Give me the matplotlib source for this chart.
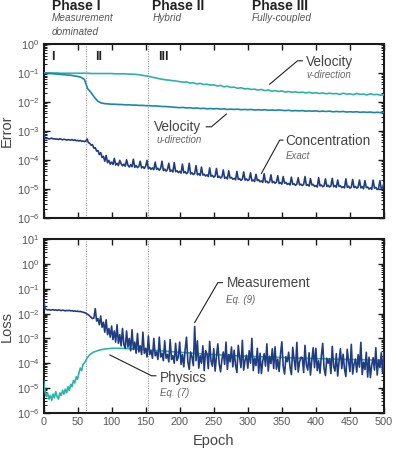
import numpy as np
import matplotlib
matplotlib.use("Agg")
import matplotlib.pyplot as plt
from matplotlib.ticker import LogLocator, NullFormatter

plt.rcParams['font.family'] = ['Liberation Sans', 'DejaVu Sans']
plt.rcParams['mathtext.fontset'] = 'custom'
plt.rcParams['mathtext.rm'] = 'Liberation Sans'
plt.rcParams['mathtext.it'] = 'Liberation Sans:italic'
plt.rcParams['mathtext.default'] = 'regular'

# ---------------- data (log10 values) ----------------
epochs_fine = np.arange(0, 501, 2)      # sampling of the noisy series
epochs_smooth = np.arange(0, 501, 5)    # sampling of the velocity errors
phys_epochs = np.concatenate([np.arange(0, 100, 2), np.arange(100, 501, 10)])

vel_v_log = [
    -1.00, -1.00, -1.00, -1.00, -1.00, -1.01, -1.01, -1.01, -1.01, -1.01,
    -1.01, -1.01, -1.01, -1.01, -1.02, -1.02, -1.02, -1.02, -1.02, -1.02,
    -1.02, -1.03, -1.03, -1.03, -1.03, -1.04, -1.04, -1.05, -1.06, -1.08,
    -1.10, -1.12, -1.15, -1.17, -1.20, -1.22, -1.24, -1.25, -1.27, -1.28,
    -1.30, -1.32, -1.31, -1.35, -1.34, -1.38, -1.36, -1.40, -1.39, -1.42,
    -1.41, -1.45, -1.43, -1.48, -1.46, -1.50, -1.49, -1.53, -1.51, -1.55,
    -1.54, -1.57, -1.56, -1.59, -1.57, -1.61, -1.59, -1.63, -1.61, -1.64,
    -1.62, -1.66, -1.64, -1.67, -1.65, -1.68, -1.66, -1.69, -1.67, -1.70,
    -1.68, -1.71, -1.69, -1.72, -1.70, -1.72, -1.71, -1.74, -1.70, -1.73,
    -1.72, -1.75, -1.71, -1.74, -1.73, -1.76, -1.72, -1.75, -1.74, -1.77,
    -1.75,
]

vel_u_log = [
    -1.00, -1.01, -1.02, -1.03, -1.04, -1.05, -1.06, -1.07, -1.08, -1.10,
    -1.12, -1.15, -1.22, -1.55, -1.68, -1.85, -1.98, -2.04, -2.06, -2.07,
    -2.08, -2.08, -2.09, -2.09, -2.10, -2.10, -2.11, -2.11, -2.12, -2.12,
    -2.13, -2.13, -2.14, -2.14, -2.15, -2.16, -2.16, -2.17, -2.18, -2.19,
    -2.20, -2.19, -2.21, -2.20, -2.22, -2.21, -2.23, -2.22, -2.24, -2.23,
    -2.24, -2.23, -2.25, -2.24, -2.26, -2.25, -2.26, -2.25, -2.27, -2.26,
    -2.27, -2.26, -2.28, -2.27, -2.28, -2.27, -2.29, -2.28, -2.29, -2.28,
    -2.29, -2.30, -2.29, -2.31, -2.30, -2.31, -2.30, -2.32, -2.31, -2.32,
    -2.31, -2.33, -2.32, -2.33, -2.32, -2.34, -2.33, -2.34, -2.33, -2.35,
    -2.34, -2.35, -2.34, -2.36, -2.35, -2.36, -2.35, -2.37, -2.36, -2.37,
    -2.36,
]

conc_log = [
    -3.00, -3.25, -3.27, -3.26, -3.28, -3.27, -3.25, -3.28, -3.27, -3.29,
    -3.28, -3.30, -3.27, -3.29, -3.31, -3.29, -3.30, -3.32, -3.30, -3.31,
    -3.32, -3.30, -3.33, -3.31, -3.34, -3.33, -3.35, -3.33, -3.36, -3.35,
    -3.37, -3.36, -3.28, -3.41, -3.43, -3.50, -3.48, -3.60, -3.58, -3.70,
    -3.68, -3.82, -3.75, -3.92, -3.88, -4.05, -3.85, -4.10, -4.02, -4.15,
    -4.08, -4.16, -3.95, -4.18, -4.12, -4.20, -4.02, -4.14, -4.21, -4.15,
    -4.22, -4.00, -4.19, -4.25, -4.17, -4.24, -3.98, -4.26, -4.20, -4.27,
    -4.23, -4.05, -4.28, -4.24, -4.30, -4.22, -4.02, -4.31, -4.26, -4.33,
    -4.28, -4.34, -4.08, -4.33, -4.29, -4.36, -4.30, -4.05, -4.37, -4.32,
    -4.39, -4.34, -4.12, -4.40, -4.36, -4.42, -4.10, -4.41, -4.38, -4.44,
    -4.40, -4.46, -4.15, -4.45, -4.41, -4.48, -4.43, -4.12, -4.49, -4.45,
    -4.51, -4.47, -4.20, -4.52, -4.48, -4.54, -4.25, -4.53, -4.50, -4.56,
    -4.52, -4.58, -4.28, -4.57, -4.54, -4.60, -4.56, -4.30, -4.61, -4.57,
    -4.63, -4.59, -4.35, -4.64, -4.60, -4.66, -4.38, -4.63, -4.61, -4.67,
    -4.64, -4.69, -4.40, -4.68, -4.65, -4.71, -4.67, -4.42, -4.70, -4.66,
    -4.72, -4.68, -4.45, -4.73, -4.70, -4.75, -4.50, -4.72, -4.69, -4.76,
    -4.73, -4.78, -4.48, -4.77, -4.74, -4.80, -4.76, -4.52, -4.79, -4.75,
    -4.81, -4.77, -4.55, -4.82, -4.79, -4.84, -4.58, -4.81, -4.78, -4.85,
    -4.82, -4.87, -4.60, -4.85, -4.83, -4.88, -4.84, -4.62, -4.87, -4.84,
    -4.89, -4.85, -4.58, -4.88, -4.86, -4.91, -4.65, -4.87, -4.85, -4.92,
    -4.89, -4.94, -4.62, -4.90, -4.87, -4.93, -4.90, -4.66, -4.92, -4.88,
    -4.94, -4.90, -4.64, -4.93, -4.89, -4.95, -4.70, -4.92, -4.90, -4.96,
    -4.93, -4.97, -4.66, -4.95, -4.91, -4.98, -4.94, -4.68, -4.96, -4.92,
    -4.98, -4.94, -4.70, -4.97, -4.93, -5.00, -4.72, -4.96, -4.94, -5.01,
    -4.97, -5.02, -4.70, -4.98, -4.95, -5.03, -4.99, -4.72, -5.00, -4.96,
    -4.80,
]

meas_log = [
    -1.37, -1.78, -1.83, -1.85, -1.84, -1.86, -1.85, -1.84, -1.86, -1.85,
    -1.87, -1.85, -1.86, -1.88, -1.86, -1.87, -1.89, -1.87, -1.88, -1.87,
    -1.89, -1.88, -1.90, -1.89, -1.91, -1.90, -1.92, -1.91, -1.93, -1.94,
    -1.96, -1.98, -2.02, -2.05, -2.10, -2.15, -2.20, -2.18, -1.80, -2.30,
    -2.20, -2.45, -2.10, -2.55, -2.35, -2.75, -2.25, -2.85, -2.60, -2.95,
    -2.50, -3.05, -2.70, -3.15, -2.45, -3.20, -2.85, -3.30, -2.60, -3.25,
    -3.40, -2.70, -3.35, -3.00, -3.50, -2.65, -3.45, -3.15, -3.60, -2.80,
    -3.55, -3.30, -3.65, -2.75, -3.60, -3.40, -3.75, -2.90, -3.65, -3.50,
    -3.80, -3.00, -3.70, -3.55, -3.85, -2.95, -3.75, -3.60, -3.90, -3.10,
    -3.80, -3.65, -3.95, -3.05, -3.85, -3.70, -4.00, -3.20, -3.90, -3.75,
    -3.15, -4.05, -3.65, -4.15, -3.45, -2.95, -3.95, -4.25, -3.55, -3.75,
    -4.10, -2.52, -3.90, -3.10, -4.20, -3.70, -4.00, -3.30, -4.30, -3.50,
    -3.62, -4.22, -3.12, -3.92, -4.12, -3.42, -4.32, -3.72, -3.22, -4.02,
    -4.35, -3.85, -3.55, -4.05, -3.15, -4.25, -3.65, -3.95, -3.35, -4.15,
    -3.48, -4.08, -4.38, -3.28, -3.78, -4.18, -3.08, -4.28, -3.88, -3.68,
    -4.20, -3.50, -4.00, -3.00, -4.30, -3.80, -4.10, -3.40, -4.40, -3.60,
    -4.42, -3.92, -3.62, -4.12, -3.22, -4.32, -3.72, -4.02, -3.42, -4.22,
    -3.34, -4.24, -3.84, -4.34, -3.64, -3.14, -4.14, -4.44, -3.74, -3.94,
    -3.56, -4.16, -4.46, -3.36, -3.86, -4.26, -3.16, -4.36, -3.96, -3.76,
    -3.78, -4.38, -3.28, -4.08, -4.28, -3.58, -4.48, -3.88, -3.38, -4.18,
    -3.40, -4.30, -3.90, -4.40, -3.70, -3.20, -4.20, -4.50, -3.80, -4.00,
    -3.82, -4.42, -3.32, -4.12, -4.32, -3.62, -4.52, -3.92, -3.42, -4.22,
    -3.64, -4.24, -4.54, -3.44, -3.94, -4.34, -3.24, -4.44, -4.04, -3.84,
    -4.36, -3.66, -4.16, -3.16, -4.46, -3.96, -4.26, -3.56, -4.56, -3.76,
    -4.58, -4.08, -3.78, -4.28, -3.38, -4.48, -3.88, -4.18, -3.58, -4.38,
    -3.55,
]

phys_log = [
    -4.67, -5.10, -5.35, -5.20, -5.45, -5.30, -5.50, -5.25, -5.40, -5.15,
    -5.35, -5.45, -5.20, -5.30, -5.10, -5.25, -5.05, -5.20, -4.95, -5.10,
    -4.85, -4.95, -4.70, -4.80, -4.55, -4.65, -4.40, -4.20, -4.30, -4.05,
    -4.00, -3.90, -3.80, -3.72, -3.66, -3.62, -3.58, -3.55, -3.53, -3.51,
    -3.49, -3.48, -3.46, -3.45, -3.44, -3.43, -3.42, -3.42, -3.41, -3.41,
    -3.40, -3.40, -3.41, -3.42, -3.43, -3.45, -3.48, -3.50, -3.52, -3.54,
    -3.56, -3.58, -3.60, -3.62, -3.64, -3.65, -3.67, -3.68, -3.70, -3.71,
    -3.72, -3.73, -3.74, -3.75, -3.76, -3.77, -3.78, -3.79, -3.80, -3.81,
    -3.82, -3.82, -3.83, -3.84, -3.85, -3.85, -3.86, -3.86, -3.87, -3.87,
    -3.88,
]

phase_bounds = [62, 153]
region_labels = ["I", "II", "III"]
region_x = [14, 81, 176]
phase_titles = ["Phase I", "Phase II", "Phase III"]
phase_subs = ["Measurement\ndominated", "Hybrid", "Fully-coupled"]
x_ticks = list(range(0, 501, 50))

# ---------------- style ----------------
C_V = "#2bb3aa"
C_U = "#1b86a8"
C_NAVY = "#213d82"
TXT = "#444444"
SPINE = "#1a1a1a"

W, H = 395, 450
fig = plt.figure(figsize=(W / 100, H / 100), dpi=100)

def add_ax(l, r, t, b):
    return fig.add_axes([l / W, 1 - b / H, (r - l) / W, (b - t) / H])

ax1 = add_ax(43.5, 384, 44, 217.7)
ax2 = add_ax(43.5, 384, 239.3, 412.7)

def style(ax, ymin, ymax, show_x):
    ax.set_yscale('log')
    ax.set_xlim(0, 500)
    ax.set_ylim(ymin, ymax)
    ax.set_xticks(x_ticks)
    ax.yaxis.set_major_locator(LogLocator(base=10, numticks=20))
    ax.yaxis.set_minor_locator(LogLocator(base=10, subs=np.arange(2, 10), numticks=20))
    ax.yaxis.set_minor_formatter(NullFormatter())
    ax.tick_params(axis='both', which='major', direction='in', length=4, width=1.0,
                   top=True, right=True, labelsize=7.8, labelcolor="#555555",
                   color=SPINE, pad=3)
    ax.tick_params(axis='y', which='minor', direction='in', length=2, width=0.7,
                   left=True, right=True, color=SPINE)
    for s in ax.spines.values():
        s.set_linewidth(1.5)
        s.set_color(SPINE)
    if not show_x:
        ax.tick_params(axis='x', labelbottom=False)
    for xb in phase_bounds:
        ax.axvline(xb, color="#999999", lw=0.8, ls=(0, (1, 1.2)), zorder=1)

style(ax1, 1e-6, 1e0, False)
style(ax2, 1e-6, 1e1, True)

lw = 1.2
ax1.plot(epochs_smooth, 10 ** np.array(vel_v_log), color=C_V, lw=lw, zorder=3)
ax1.plot(epochs_smooth, 10 ** np.array(vel_u_log), color=C_U, lw=lw, zorder=3)
ax1.plot(epochs_fine, 10 ** np.array(conc_log), color=C_NAVY, lw=lw, zorder=3)

ax2.plot(phys_epochs, 10 ** np.array(phys_log), color=C_V, lw=lw, zorder=3)
ax2.plot(epochs_fine, 10 ** np.array(meas_log), color=C_NAVY, lw=lw, zorder=4)

ax1.set_ylabel("Error", fontsize=10.5, color=TXT)
ax2.set_ylabel("Loss", fontsize=10.5, color=TXT)
ax1.yaxis.set_label_coords(-0.088, 0.5)
ax2.yaxis.set_label_coords(-0.088, 0.5)
ax2.set_xlabel("Epoch", fontsize=10.5, color=TXT, labelpad=5)

# region labels
for lab, xr in zip(region_labels, region_x):
    ax1.text(xr, 10 ** -0.44, lab, ha='center', va='center', fontsize=9,
             fontweight='bold', color="#222222")

# phase titles
phase_fx = [51.7 / W, 152.3 / W, 251.7 / W]
for t, s, fx in zip(phase_titles, phase_subs, phase_fx):
    fig.text(fx, 1 - 5.5 / H, t, ha='left', va='center', fontsize=10,
             fontweight='bold', color="#222222")
    fig.text(fx, 1 - 13 / H, s, ha='left', va='top', fontsize=7.2,
             style='italic', color="#555555", linespacing=1.45)

def label(ax, x, y, main, sub, ha='left', dy=None):
    ax.text(x, 10 ** y, main, ha=ha, va='center', fontsize=9.8, color=TXT)
    ax.text(x, 10 ** dy, sub, ha=ha, va='center', fontsize=7, style='italic', color="#666666")

def leader(ax, xs, ys):
    ax.plot(xs, 10 ** np.array(ys), color="#222222", lw=0.8, zorder=5)

label(ax1, 386, -0.61, "Velocity", "v-direction", dy=-1.07)
leader(ax1, [332, 373, 380], [-1.39, -0.58, -0.58])

label(ax1, 232, -2.88, "Velocity", "u-direction", ha='right', dy=-3.30)
leader(ax1, [239, 246.6, 268.6], [-2.86, -2.86, -2.42])

label(ax1, 355.6, -3.36, "Concentration", "Exact", dy=-3.86)
leader(ax1, [320, 346.8, 351.6], [-4.47, -3.32, -3.32])

label(ax2, 268.6, -0.77, "Measurement", "Eq. (9)", dy=-1.45)
leader(ax2, [222, 256, 262.7], [-2.36, -0.75, -0.75])

label(ax2, 170.8, -4.6, "Physics", "Eq. (7)", dy=-5.21)
leader(ax2, [97.5, 158.7, 165], [-3.67, -4.51, -4.51])

fig.savefig("out.png", dpi=100)
